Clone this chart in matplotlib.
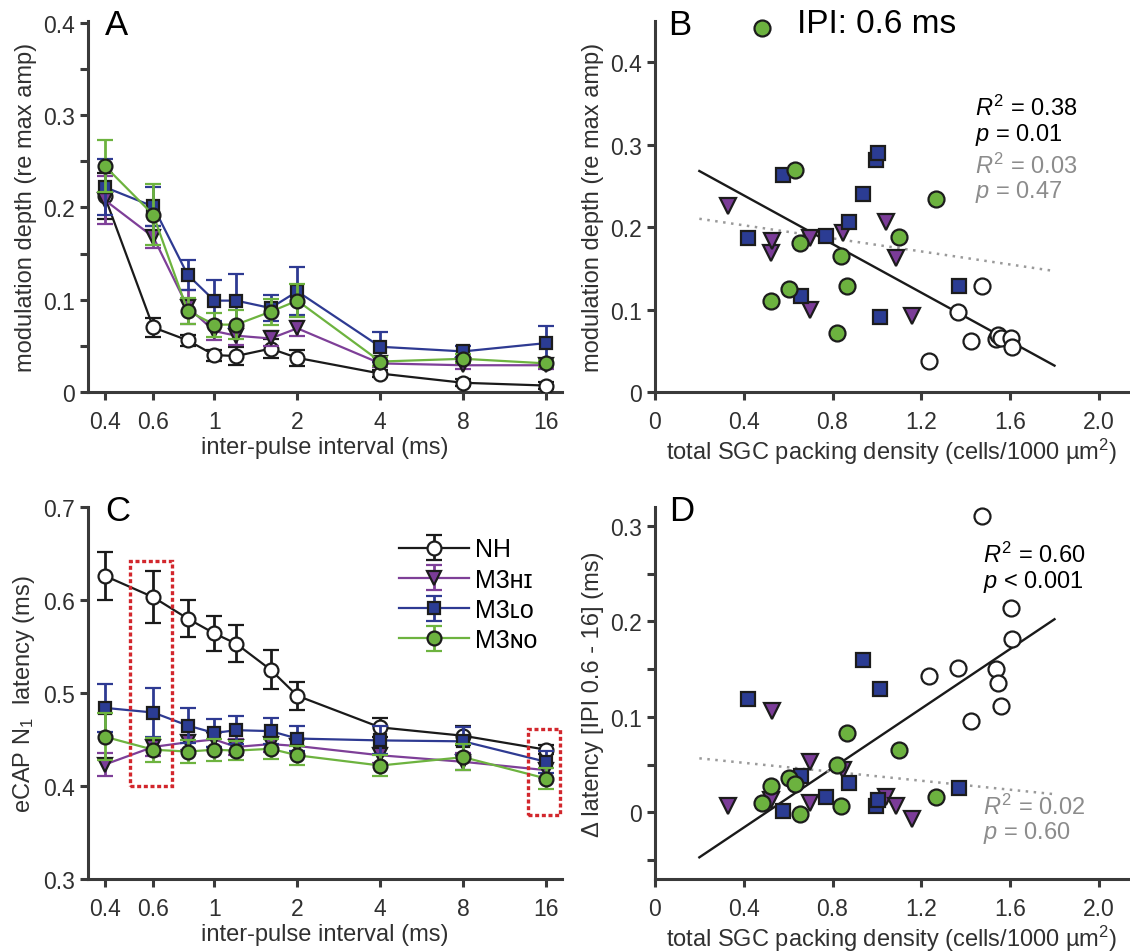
import numpy as np
import matplotlib
matplotlib.use("Agg")
from matplotlib import pyplot as plt
from matplotlib.patches import Rectangle
from matplotlib.ticker import MultipleLocator, NullLocator

plt.rcParams['font.family'] = ['Liberation Sans', 'DejaVu Sans']
plt.rcParams['mathtext.fontset'] = 'custom'
plt.rcParams['mathtext.rm'] = 'Liberation Sans'
plt.rcParams['mathtext.it'] = 'Liberation Sans:italic'
plt.rcParams['mathtext.bf'] = 'Liberation Sans:bold'

AXIS_GREY = '#3a3a3a'
TEXT_GREY = '#303030'
EDGE = '#1c1c1c'
RED = '#d2262c'
LABEL_SIZE = 17
TICK_SIZE = 16.5

# group names, colours and markers
groups = ['NH', 'M3ʜɪ', 'M3ʟᴏ', 'M3ɴᴏ']
line_colors = ['#1a1a1a', '#7e3f98', '#2e3a92', '#6db33f']
face_colors = ['white', '#7b3c98', '#2b3c93', '#6cb23f']
markers = ['o', 'v', 's', 'o']
# squares drawn a little smaller so they read the same size as circles
marker_scale = [1.0, 1.0, 0.82, 1.0]

# inter-pulse intervals (ms)
ipi = [0.4, 0.6, 0.8, 1, 1.2, 1.6, 2, 4, 8, 16]
ipi_ticks = [0.4, 0.6, 1, 2, 4, 8, 16]
ipi_labels = ['0.4', '0.6', '1', '2', '4', '8', '16']

# modulation depth (re max amp), mean and sem
nh_mod = [0.212, 0.070, 0.056, 0.040, 0.039, 0.047, 0.037, 0.020, 0.010, 0.007]
nh_mod_err = [0.025, 0.010, 0.006, 0.006, 0.010, 0.010, 0.009, 0.004, 0.004, 0.004]
hi_mod = [0.208, 0.168, 0.092, 0.066, 0.061, 0.058, 0.069, 0.031, 0.029, 0.029]
hi_mod_err = [0.026, 0.012, 0.018, 0.010, 0.010, 0.008, 0.008, 0.004, 0.004, 0.004]
lo_mod = [0.222, 0.201, 0.127, 0.099, 0.099, 0.091, 0.109, 0.049, 0.044, 0.053]
lo_mod_err = [0.030, 0.021, 0.016, 0.022, 0.029, 0.014, 0.026, 0.016, 0.006, 0.018]
no_mod = [0.245, 0.192, 0.088, 0.073, 0.073, 0.087, 0.099, 0.033, 0.036, 0.031]
no_mod_err = [0.028, 0.033, 0.014, 0.013, 0.016, 0.014, 0.018, 0.005, 0.005, 0.004]

# eCAP N1 latency (ms), mean and sem
nh_lat = [0.626, 0.603, 0.580, 0.564, 0.553, 0.525, 0.497, 0.463, 0.454, 0.439]
nh_lat_err = [0.026, 0.028, 0.020, 0.019, 0.020, 0.021, 0.015, 0.010, 0.010, 0.005]
hi_lat = [0.423, 0.442, 0.447, 0.450, 0.442, 0.445, 0.443, 0.433, 0.426, 0.417]
hi_lat_err = [0.012, 0.010, 0.008, 0.008, 0.009, 0.008, 0.008, 0.008, 0.009, 0.008]
lo_lat = [0.484, 0.479, 0.465, 0.457, 0.460, 0.459, 0.451, 0.449, 0.448, 0.426]
lo_lat_err = [0.026, 0.026, 0.019, 0.015, 0.015, 0.014, 0.013, 0.015, 0.015, 0.012]
no_lat = [0.453, 0.439, 0.437, 0.439, 0.438, 0.440, 0.433, 0.422, 0.431, 0.408]
no_lat_err = [0.025, 0.013, 0.012, 0.012, 0.010, 0.011, 0.010, 0.011, 0.014, 0.011]

# per-animal SGC packing density (cells/1000 um^2)
nh_density = [1.475, 1.364, 1.422, 1.233, 1.536, 1.545, 1.558, 1.604, 1.609]
hi_density = [0.331, 0.521, 0.528, 0.700, 0.700, 0.847, 1.041, 1.086, 1.158]
lo_density = [0.418, 0.575, 0.656, 0.770, 0.872, 0.938, 0.995, 1.006, 1.013, 1.368]
no_density = [0.483, 0.523, 0.605, 0.630, 0.653, 0.822, 0.837, 0.864, 1.100, 1.265]

# modulation depth at IPI 0.6 ms, per animal
nh_mod06 = [0.128, 0.097, 0.062, 0.038, 0.064, 0.069, 0.065, 0.066, 0.055]
hi_mod06 = [0.226, 0.168, 0.183, 0.187, 0.099, 0.193, 0.206, 0.162, 0.092]
lo_mod06 = [0.187, 0.263, 0.117, 0.189, 0.206, 0.240, 0.281, 0.290, 0.091, 0.128]
no_mod06 = [0.441, 0.110, 0.125, 0.269, 0.181, 0.072, 0.165, 0.129, 0.188, 0.234]

# latency difference IPI 0.6 - 16 ms, per animal
nh_dlat = [0.310, 0.151, 0.096, 0.143, 0.150, 0.135, 0.111, 0.214, 0.182]
hi_dlat = [0.006, 0.013, 0.106, 0.053, 0.010, 0.044, 0.016, 0.006, -0.007]
lo_dlat = [0.119, 0.001, 0.038, 0.016, 0.031, 0.160, 0.007, 0.013, 0.129, 0.025]
no_dlat = [0.010, 0.027, 0.036, 0.030, -0.002, 0.050, 0.006, 0.083, 0.065, 0.016]

# regression lines (slope, intercept): all animals / deafened only
fit_range = [0.2, 1.8]
fit_b_all = [-0.1475, 0.2975]
fit_b_deaf = [-0.0396, 0.218]
fit_d_all = [0.156, -0.0785]
fit_d_deaf = [-0.0235, 0.0612]

stats_b = [('$R^2$ = 0.38', '$p$ = 0.01'), ('$R^2$ = 0.03', '$p$ = 0.47')]
stats_d = [('$R^2$ = 0.60', '$p$ < 0.001'), ('$R^2$ = 0.02', '$p$ = 0.60')]


def style_axes(ax):
    for side in ('top', 'right'):
        ax.spines[side].set_visible(False)
    for side in ('left', 'bottom'):
        ax.spines[side].set_linewidth(2.2)
        ax.spines[side].set_color(AXIS_GREY)
    ax.tick_params(which='both', direction='out', length=6, width=2.2,
                   color=AXIS_GREY, labelsize=TICK_SIZE, labelcolor=TEXT_GREY)
    ax.tick_params(axis='x', pad=7)


def ipi_axes(ax):
    ax.set_xscale('log')
    ax.set_xlim(0.348, 18.2)
    ax.set_xticks(ipi_ticks)
    ax.set_xticklabels(ipi_labels)
    ax.xaxis.set_minor_locator(NullLocator())
    ax.set_xlabel('inter-pulse interval (ms)', fontsize=LABEL_SIZE, color=TEXT_GREY, labelpad=2)


def density_axes(ax):
    ax.set_xlim(0, 2.13)
    ax.set_xticks([0, 0.4, 0.8, 1.2, 1.6, 2.0])
    ax.set_xticklabels(['0', '0.4', '0.8', '1.2', '1.6', '2.0'])
    ax.set_xlabel('total SGC packing density (cells/1000 \u00b5m$^2$)', fontsize=LABEL_SIZE,
                  color=TEXT_GREY, labelpad=2)


def group_lines(ax, means, errs):
    handles = []
    for i in range(4):
        h = ax.errorbar(ipi, means[i], yerr=errs[i], color=line_colors[i], lw=1.6,
                        marker=markers[i], ms=10 * marker_scale[i], mfc=face_colors[i],
                        mec=EDGE, mew=1.6, elinewidth=2, capsize=6, capthick=2.2,
                        zorder=3 + i)
        handles.append(h)
    return handles


def group_scatter(ax, xs, ys, fit_all, fit_deaf):
    for i in range(4):
        ax.plot(xs[i], ys[i], ls='none', marker=markers[i], ms=11.5 * marker_scale[i],
                mfc=face_colors[i], mec=EDGE, mew=1.6, zorder=3 + i, clip_on=False)
    fx = np.array(fit_range)
    ax.plot(fx, np.polyval(fit_all, fx), color='#1a1a1a', lw=1.7, zorder=2)
    ax.plot(fx, np.polyval(fit_deaf, fx), color='#9a9a9a', lw=1.8,
            ls=(0, (1, 2.2)), zorder=2)


def stat_text(ax, x, ys, lines):
    ax.text(x, ys[0], lines[0][0], fontsize=17, va='center', color='black')
    ax.text(x, ys[1], lines[0][1], fontsize=17, va='center', color='black')
    ax.text(x, ys[2], lines[1][0], fontsize=17, va='center', color='#8c8c8c')
    ax.text(x, ys[3], lines[1][1], fontsize=17, va='center', color='#8c8c8c')


fig = plt.figure(figsize=(11.3, 9.53), dpi=100)
ax_a = fig.add_axes([0.0779, 0.5876, 0.4191, 0.3894])
ax_b = fig.add_axes([0.5796, 0.5876, 0.4184, 0.3894])
ax_c = fig.add_axes([0.0779, 0.0766, 0.4191, 0.3904])
ax_d = fig.add_axes([0.5796, 0.0766, 0.4184, 0.3904])
for ax in (ax_a, ax_b, ax_c, ax_d):
    style_axes(ax)

# A: modulation depth vs IPI
group_lines(ax_a, [nh_mod, hi_mod, lo_mod, no_mod], [nh_mod_err, hi_mod_err, lo_mod_err, no_mod_err])
ipi_axes(ax_a)
ax_a.set_ylim(0, 0.402)
ax_a.set_yticks([0, 0.1, 0.2, 0.3, 0.4])
ax_a.set_yticklabels(['0', '0.1', '0.2', '0.3', '0.4'])
ax_a.yaxis.set_minor_locator(MultipleLocator(0.05))
ax_a.set_ylabel('modulation depth (re max amp)', fontsize=LABEL_SIZE, color=TEXT_GREY)

# B: modulation depth at 0.6 ms vs density
group_scatter(ax_b, [nh_density, hi_density, lo_density, no_density],
              [nh_mod06, hi_mod06, lo_mod06, no_mod06], fit_b_all, fit_b_deaf)
density_axes(ax_b)
ax_b.set_ylim(0, 0.45)
ax_b.set_yticks([0, 0.1, 0.2, 0.3, 0.4])
ax_b.set_yticklabels(['0', '0.1', '0.2', '0.3', '0.4'])
ax_b.set_ylabel('modulation depth (re max amp)', fontsize=LABEL_SIZE, color=TEXT_GREY)
ax_b.text(0.64, 0.4465, 'IPI: 0.6 ms', fontsize=24, va='center', color='black')
stat_text(ax_b, 1.44, [0.345, 0.313, 0.275, 0.244], stats_b)

# C: N1 latency vs IPI
handles = group_lines(ax_c, [nh_lat, hi_lat, lo_lat, no_lat], [nh_lat_err, hi_lat_err, lo_lat_err, no_lat_err])
ipi_axes(ax_c)
ax_c.set_ylim(0.3, 0.7)
ax_c.set_yticks([0.3, 0.4, 0.5, 0.6, 0.7])
ax_c.set_yticklabels(['0.3', '0.4', '0.5', '0.6', '0.7'])
ax_c.set_ylabel('eCAP N$_1$  latency (ms)', fontsize=LABEL_SIZE, color=TEXT_GREY)
ax_c.legend(handles, groups, loc='upper left', bbox_to_anchor=(0.635, 0.945), frameon=False,
            fontsize=18, handlelength=2.8, handletextpad=0.25, labelspacing=0.25,
            borderaxespad=0)
ax_c.add_patch(Rectangle((0.495, 0.400), 0.703 - 0.495, 0.642 - 0.400, fill=False,
                         ec=RED, lw=2.4, ls=(0, (1.2, 0.8)), zorder=10))
ax_c.add_patch(Rectangle((13.8, 0.369), 17.95 - 13.8, 0.461 - 0.369, fill=False,
                         ec=RED, lw=2.4, ls=(0, (1.2, 0.8)), zorder=10, clip_on=False))

# D: latency change vs density
group_scatter(ax_d, [nh_density, hi_density, lo_density, no_density],
              [nh_dlat, hi_dlat, lo_dlat, no_dlat], fit_d_all, fit_d_deaf)
density_axes(ax_d)
ax_d.set_ylim(-0.07, 0.32)
ax_d.set_yticks([0, 0.1, 0.2, 0.3])
ax_d.set_yticklabels(['0', '0.1', '0.2', '0.3'])
ax_d.yaxis.set_minor_locator(MultipleLocator(0.05))
ax_d.set_ylabel('\u0394 latency [IPI 0.6 - 16] (ms)', fontsize=LABEL_SIZE, color=TEXT_GREY)
stat_text(ax_d, 1.48, [0.270, 0.242, 0.006, -0.021], stats_d)

for ax, letter, x in ((ax_a, 'A', 0.036), (ax_b, 'B', 0.027), (ax_c, 'C', 0.036), (ax_d, 'D', 0.03)):
    ax.text(x, 0.99, letter, transform=ax.transAxes, fontsize=25, va='center', color='black')

fig.savefig('out.png', dpi=100)
